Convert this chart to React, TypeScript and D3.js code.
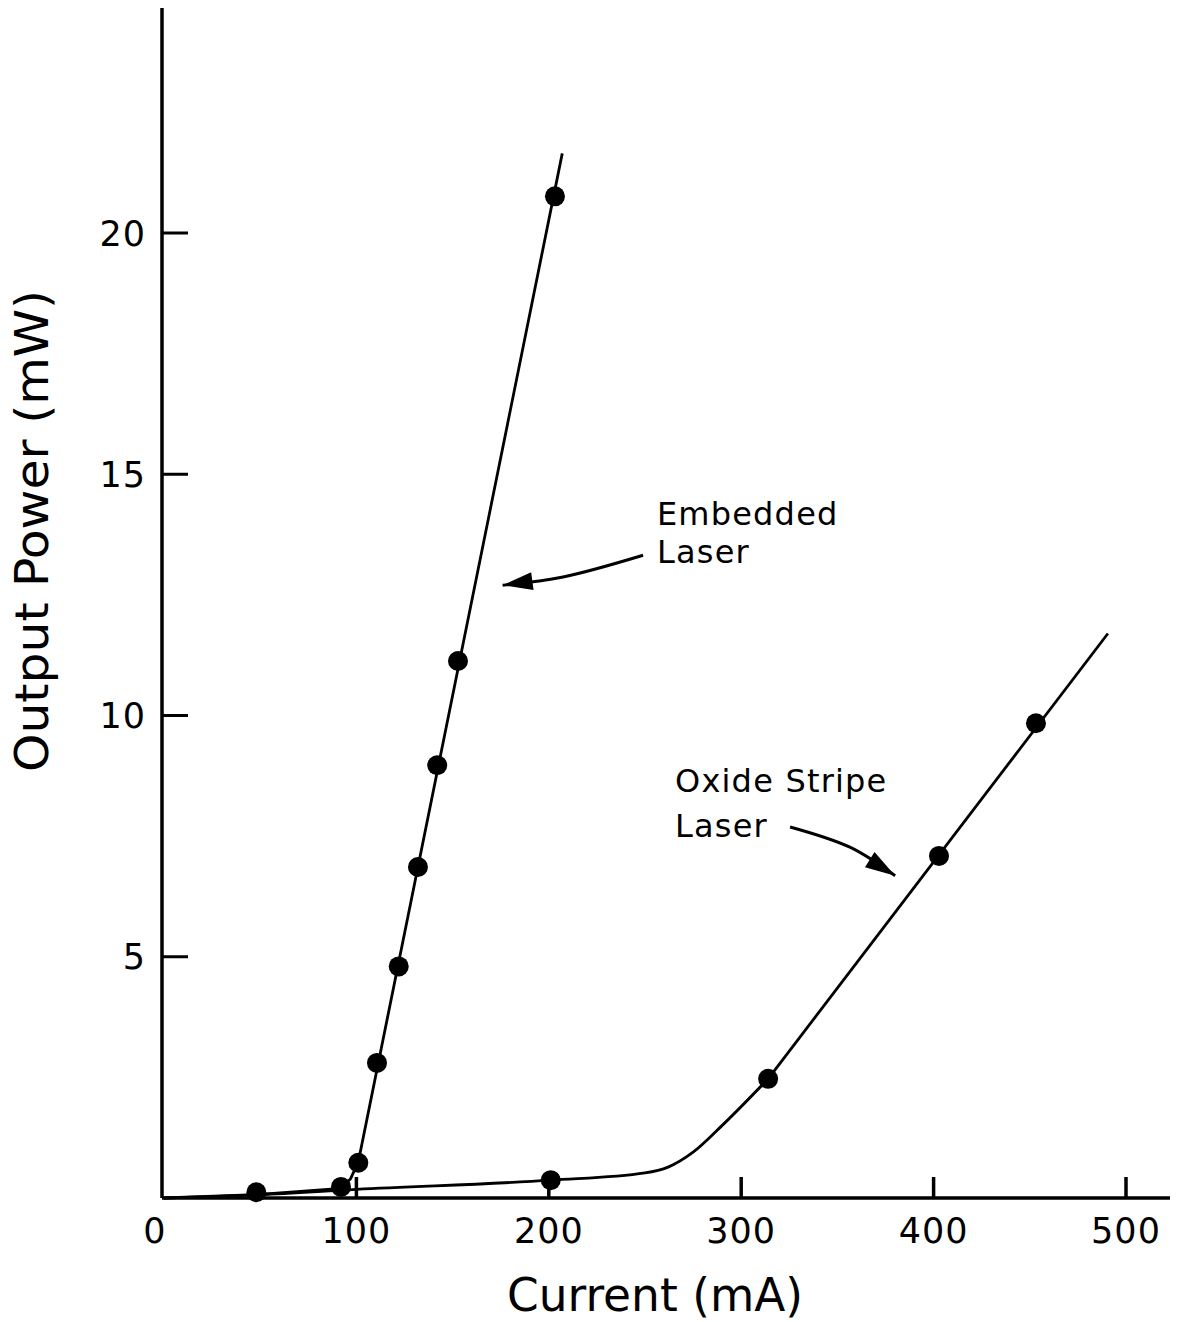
import { useEffect } from "react";
import * as d3 from "d3";

// measured points (current mA, power mW)
const embeddedPoints = [
  [48, 0.12], [92, 0.23], [101, 0.73], [110.7, 2.8], [122, 4.8],
  [132, 6.86], [142, 8.97], [152.8, 11.13], [203.2, 20.76],
];
const oxidePoints = [
  [201, 0.37], [314, 2.47], [402.8, 7.09], [453.2, 9.84],
];

// hand-drawn fit curves
const embeddedCurve = [
  [0, 0], [48, 0.07], [92, 0.2], [97, 0.4], [101, 0.75], [207, 21.65],
];
const oxideKnee = [
  [0, 0], [50, 0.07], [100, 0.18], [201, 0.37], [250, 0.52], [262, 0.64],
  [275, 0.95], [290, 1.5], [314, 2.47],
];
const oxideStraight = [[314, 2.47], [490.6, 11.7]];

const xTicks = [0, 100, 200, 300, 400, 500];
const yTicks = [5, 10, 15, 20];

// annotations in data units
const embeddedLabel = { x: 256.2, y: 13.94, lines: ["Embedded", "Laser"] };
const embeddedArrow = [[249, 13.32], [207.4, 12.87], [176, 12.7]];
const oxideLabel = { x: 265.6, y: 8.41, lines: ["Oxide Stripe", "Laser"] };
const oxideArrow = [[325.4, 7.69], [356.5, 7.27], [380, 6.68]];

const FONT = "'DejaVu Sans', sans-serif";

export default function App() {
  useEffect(() => {
    document.body.style.margin = "0";
  }, []);

  const width = 1180;
  const height = 1322;

  const x = d3.scaleLinear().domain([0, 500]).range([164, 1126]);
  const y = d3.scaleLinear().domain([0, 20]).range([1198, 233]);

  const straight = d3
    .line<number[]>()
    .x((d) => x(d[0]))
    .y((d) => y(d[1]));
  const smooth = d3
    .line<number[]>()
    .x((d) => x(d[0]))
    .y((d) => y(d[1]))
    .curve(d3.curveMonotoneX);
  const arrowPath = d3
    .line<number[]>()
    .x((d) => x(d[0]))
    .y((d) => y(d[1]))
    .curve(d3.curveCatmullRom);

  const arrowHead = (pts: number[][]) => {
    const [a, b] = pts.slice(-2).map((p) => [x(p[0]), y(p[1])]);
    const ang = Math.atan2(b[1] - a[1], b[0] - a[0]);
    const len = 30;
    const w = 9;
    const bx = b[0] - len * Math.cos(ang);
    const by = b[1] - len * Math.sin(ang);
    const px = -Math.sin(ang) * w;
    const py = Math.cos(ang) * w;
    return `M${b[0]},${b[1]}L${bx + px},${by + py}L${bx - px},${by - py}Z`;
  };

  const label = (l: { x: number; y: number; lines: string[] }, gap: number) =>
    l.lines.map((t, i) => (
      <text
        key={t}
        x={x(l.x)}
        y={y(l.y) + i * gap}
        fontFamily={FONT}
        fontSize={32}
        letterSpacing={1.2}
        fill="#000"
      >
        {t}
      </text>
    ));

  return (
    <svg width={width} height={height} style={{ display: "block", background: "#fff" }}>
      {/* axes */}
      <line x1={162} x2={1170} y1={y(0)} y2={y(0)} stroke="#000" strokeWidth={3.5} />
      <line x1={162} x2={162} y1={y(0)} y2={8} stroke="#000" strokeWidth={3.5} />

      {xTicks.map((t) => (
        <g key={t}>
          {t > 0 && (
            <line x1={x(t)} x2={x(t)} y1={y(0)} y2={y(0) - 21} stroke="#000" strokeWidth={3.5} />
          )}
          <text
            x={t === 0 ? x(t) - 9 : x(t)}
            y={1243}
            textAnchor="middle"
            fontFamily={FONT}
            fontSize={35}
            letterSpacing={1}
          >
            {t}
          </text>
        </g>
      ))}
      {yTicks.map((t) => (
        <g key={t}>
          <line x1={162} x2={188} y1={y(t)} y2={y(t)} stroke="#000" strokeWidth={3} />
          <text
            x={146}
            y={y(t)}
            dy="0.36em"
            textAnchor="end"
            fontFamily={FONT}
            fontSize={35}
            letterSpacing={1}
          >
            {t}
          </text>
        </g>
      ))}

      <text
        x={655}
        y={1311}
        textAnchor="middle"
        fontFamily={FONT}
        fontSize={47}
        textLength={296}
        lengthAdjust="spacingAndGlyphs"
      >
        Current (mA)
      </text>
      <text
        transform={`translate(48,531) rotate(-90)`}
        textAnchor="middle"
        fontFamily={FONT}
        fontSize={47}
        textLength={482}
        lengthAdjust="spacingAndGlyphs"
      >
        Output Power (mW)
      </text>

      {/* curves */}
      <path d={smooth(oxideKnee) ?? ""} fill="none" stroke="#000" strokeWidth={2.8} />
      <path d={straight(oxideStraight) ?? ""} fill="none" stroke="#000" strokeWidth={2.8} />
      <path d={straight(embeddedCurve) ?? ""} fill="none" stroke="#000" strokeWidth={2.8} />

      {[...embeddedPoints, ...oxidePoints].map((p, i) => (
        <circle key={i} cx={x(p[0])} cy={y(p[1])} r={10} fill="#000" />
      ))}

      {/* annotations */}
      {label(embeddedLabel, 38)}
      {label(oxideLabel, 45)}
      <path d={arrowPath(embeddedArrow) ?? ""} fill="none" stroke="#000" strokeWidth={3} />
      <path d={arrowHead(embeddedArrow)} fill="#000" />
      <path d={arrowPath(oxideArrow) ?? ""} fill="none" stroke="#000" strokeWidth={3} />
      <path d={arrowHead(oxideArrow)} fill="#000" />
    </svg>
  );
}
